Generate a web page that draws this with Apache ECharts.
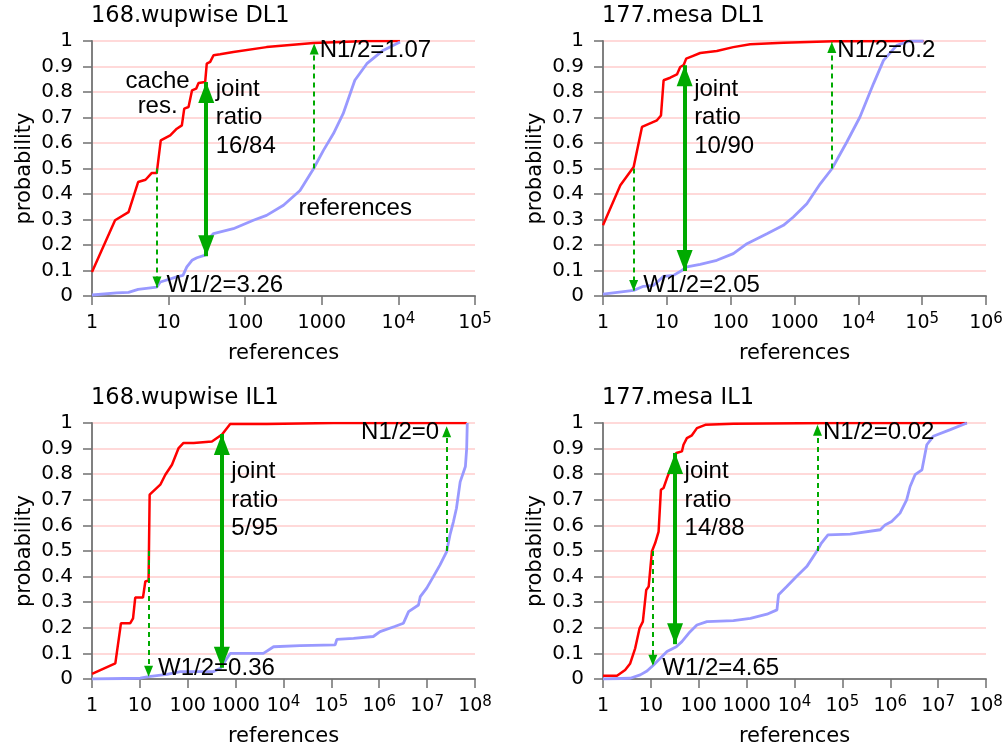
<!DOCTYPE html>
<html lang="en">
<head>
<meta charset="utf-8">
<title>cache residency vs references</title>
<style>
html, body, #main {
    width: 100%;
    height: 100%;
    margin: 0;
    padding: 0;
    overflow: hidden;
    background: #fff;
}
</style>
</head>
<body>
<div id="main"></div>
<script src="https://cdn.jsdelivr.net/npm/echarts@6.0.0/dist/echarts.min.js"></script>
<script>
// one entry per panel: top-left, top-right, bottom-left, bottom-right
var titles = ['168.wupwise DL1', '177.mesa DL1', '168.wupwise IL1', '177.mesa IL1'];
var xMaxExp = [5, 6, 8, 8];

// cache residency CDF (red) and references CDF (blue), [references, probability]
var resWupDL1 = [[1,0.094],[2,0.297],[3,0.329],[4,0.447],[5,0.456],[6,0.482],[7,0.482],[7.9,0.61],[10.5,0.63],[12.8,0.656],[14.9,0.669],[16,0.735],[18.2,0.741],[20.2,0.806],[22.9,0.813],[24.6,0.835],[30,0.839],[31.5,0.911],[34.9,0.918],[38.6,0.944],[47,0.948],[70,0.957],[190,0.976],[780,0.992],[3900,1],[10500,1]];
var refWupDL1 = [[1,0.004],[2.1,0.012],[3,0.014],[4,0.026],[7,0.035],[7.8,0.055],[12.8,0.075],[15.4,0.081],[17.3,0.114],[20.2,0.14],[23.4,0.15],[30,0.16],[31.6,0.218],[38.6,0.245],[70,0.264],[128,0.297],[190,0.316],[316,0.356],[520,0.414],[780,0.499],[1050,0.571],[1420,0.637],[1900,0.715],[2700,0.846],[3870,0.911],[6300,0.963],[10500,0.996]];
var resMesaDL1 = [[1,0.277],[1.87,0.434],[3.02,0.506],[4.08,0.663],[7,0.689],[8.1,0.708],[8.9,0.846],[11.3,0.856],[14.4,0.869],[16.2,0.898],[18.3,0.905],[20.1,0.931],[24.7,0.94],[33.3,0.953],[60.6,0.961],[110,0.976],[202,0.987],[670,0.993],[4100,0.999],[105000,1]];
var refMesaDL1 = [[1,0.007],[3.02,0.022],[4.3,0.038],[6.2,0.042],[8.9,0.077],[12.7,0.081],[17.2,0.1],[20.6,0.114],[33.3,0.124],[60.6,0.14],[110,0.166],[180,0.205],[370,0.244],[670,0.277],[960,0.31],[1560,0.362],[2530,0.44],[3860,0.499],[6600,0.604],[10600,0.702],[17300,0.833],[24800,0.924],[40000,0.983],[64000,1],[105000,1]];
var resWupIL1 = [[1,0.02],[3.07,0.061],[4.03,0.218],[6.3,0.218],[7.2,0.237],[8,0.318],[11.6,0.318],[13,0.381],[15.2,0.385],[16,0.72],[26.7,0.759],[34,0.798],[46.8,0.837],[64.5,0.902],[81.6,0.922],[133,0.922],[320,0.928],[520,0.955],[770,0.996],[4500,0.996],[110000,1],[6.7e7,1]];
var refWupIL1 = [[1,0],[10.2,0.003],[15.2,0.009],[36.7,0.018],[70,0.029],[347,0.029],[480,0.042],[770,0.1],[3800,0.1],[6200,0.126],[22000,0.13],[120000,0.133],[130000,0.155],[290000,0.159],[750000,0.166],[1.04e6,0.185],[2.1e6,0.205],[3.2e6,0.218],[4.1e6,0.263],[6.6e6,0.289],[7.2e6,0.322],[9.8e6,0.355],[1.35e7,0.4],[1.86e7,0.446],[2.56e7,0.498],[3.0e7,0.563],[3.55e7,0.615],[4.1e7,0.667],[4.9e7,0.77],[6.3e7,0.83],[6.7e7,0.9],[6.9e7,1]];
var resMesaIL1 = [[1,0.013],[1.96,0.013],[2.9,0.035],[3.7,0.061],[4.7,0.12],[5.8,0.198],[6.8,0.224],[8,0.348],[9,0.361],[10.5,0.498],[12.3,0.531],[14.5,0.576],[16.2,0.739],[18.4,0.746],[21.7,0.785],[25.4,0.817],[29.8,0.844],[34,0.883],[44.5,0.889],[48,0.915],[56.5,0.941],[72,0.952],[91.6,0.98],[137,0.993],[530,0.997],[65000,1],[4e7,1]];
var refMesaIL1 = [[1,0],[3.7,0.003],[6,0.016],[8.3,0.031],[11.4,0.055],[15.7,0.081],[21.7,0.107],[34,0.126],[44.5,0.146],[66,0.185],[91.6,0.211],[148,0.224],[530,0.228],[1200,0.237],[2660,0.253],[4300,0.27],[4640,0.329],[6900,0.361],[11000,0.4],[18000,0.439],[29000,0.498],[36500,0.531],[50000,0.563],[145000,0.566],[620000,0.583],[780000,0.602],[1.07e6,0.615],[1.6e6,0.648],[2.2e6,0.7],[2.6e6,0.752],[3.3e6,0.798],[4.6e6,0.817],[5.8e6,0.915],[7.9e6,0.948],[1.8e7,0.974],[4e7,1]];

var residency = [resWupDL1, resMesaDL1, resWupIL1, resMesaIL1];
var references = [refWupDL1, refMesaDL1, refWupIL1, refMesaIL1];

// half-way arrows: W1/2 goes down from residency 0.5, N1/2 goes up from references 0.5
var wArrowX = [7.05, 3.02, 15.2, 11];
var wArrowTo = [0.033, 0.02, 0.009, 0.052];
var wLabels = ['W1/2=3.26', 'W1/2=2.05', 'W1/2=0.36', 'W1/2=4.65'];
var nArrowX = [795, 3840, 2.56e7, 30200];
var nArrowTo = [0.99, 0.996, 0.987, 0.993];
var nLabels = ['N1/2=1.07', 'N1/2=0.2', 'N1/2=0', 'N1/2=0.02'];

// joint ratio arrows between the two curves
var jointX = [31, 19, 516, 32];
var jointTop = [0.839, 0.905, 0.957, 0.883];
var jointBottom = [0.156, 0.098, 0.044, 0.136];
var jointRatio = ['16/84', '10/90', '5/95', '14/88'];

var AXIS_FONT = 'DejaVu Sans';
var NOTE_FONT = 'Liberation Sans';
var GREEN = '#00aa00';

var gridLeft = [92, 603, 92, 603];
var gridTop = [41, 41, 423, 423];
var gridHeight = [255, 255, 256, 256];

var myChart = echarts.init(document.getElementById('main'));

function xLabel(v) {
    var e = Math.round(Math.log(v) / Math.LN10);
    if (e < 4) {
        return '{b|' + Math.round(v) + '}';
    }
    return '{b|10}{s|' + e + '}';
}

function note(x, y, text, pos, extra) {
    var lab = {
        show: true,
        formatter: text,
        position: pos,
        align: 'left',
        verticalAlign: 'middle',
        color: '#000',
        fontFamily: NOTE_FONT,
        fontSize: 24
    };
    if (extra) {
        for (var k in extra) lab[k] = extra[k];
    }
    return { coord: [x, y], label: lab };
}

var grids = [], xAxes = [], yAxes = [], series = [], titleList = [];

for (var i = 0; i < 4; i++) {
    grids.push({
        left: gridLeft[i],
        top: gridTop[i],
        width: 383,
        height: gridHeight[i],
        containLabel: false,
        outerBoundsMode: 'none'
    });
    titleList.push({
        text: titles[i],
        left: gridLeft[i] - 1,
        top: gridTop[i] - 36,
        padding: 0,
        textStyle: { fontFamily: AXIS_FONT, fontSize: 22.5, fontWeight: 'normal', color: '#000' }
    });
    xAxes.push({
        type: 'log',
        logBase: 10,
        gridIndex: i,
        min: 1,
        max: Math.pow(10, xMaxExp[i]),
        name: 'references',
        nameLocation: 'middle',
        nameGap: 47,
        nameMoveOverlap: false,
        nameTextStyle: { fontFamily: AXIS_FONT, fontSize: 21, color: '#000' },
        axisLine: { onZero: false, lineStyle: { color: '#808080', width: 2 } },
        axisTick: { show: true, length: 9, lineStyle: { color: '#707070', width: 1.5 } },
        splitLine: { show: false },
        minorTick: { show: false },
        axisLabel: {
            margin: 16,
            color: '#000',
            formatter: xLabel,
            rich: {
                b: { fontFamily: AXIS_FONT, fontSize: 19, lineHeight: 23, color: '#000' },
                s: { fontFamily: AXIS_FONT, fontSize: 15, lineHeight: 14, verticalAlign: 'top', color: '#000' }
            }
        }
    });
    yAxes.push({
        type: 'value',
        gridIndex: i,
        min: 0,
        max: 1,
        interval: 0.1,
        name: 'probability',
        nameLocation: 'middle',
        nameGap: 57,
        nameMoveOverlap: false,
        nameTextStyle: { fontFamily: AXIS_FONT, fontSize: 21, color: '#000' },
        axisLine: { show: true, onZero: false, lineStyle: { color: '#808080', width: 2 } },
        axisTick: { show: true, length: 9, lineStyle: { color: '#707070', width: 1.5 } },
        splitLine: { show: true, lineStyle: { color: '#ffcccc', width: 1.5 } },
        axisLabel: {
            margin: 19,
            color: '#000',
            fontFamily: AXIS_FONT,
            fontSize: 20,
            formatter: function (v) { return String(Math.round(v * 10) / 10); }
        }
    });

    var notes = [
        note(wArrowX[i], 0.04, wLabels[i], [10, 0]),
        note(jointX[i], 0.81, 'joint\nratio\n' + jointRatio[i], [10, -14],
            { verticalAlign: 'top', lineHeight: 28.5 })
    ];
    if (i === 2) {
        notes.push(note(nArrowX[i], 0.962, nLabels[i], [-7, 0], { align: 'right' }));
    } else {
        notes.push(note(nArrowX[i], 0.962, nLabels[i], [6, 0]));
    }
    if (i === 0) {
        notes.push(note(7.3, 0.84, 'cache\nres.', [0, -13],
            { align: 'center', verticalAlign: 'top', lineHeight: 25.7 }));
        notes.push(note(505, 0.341, 'references', [0, 0]));
    }

    var headSmall = { symbol: 'triangle', symbolSize: [9, 11], symbolOffset: [0, '50%'] };
    var headBig = { symbol: 'triangle', symbolSize: [16, 21], symbolOffset: [0, '50%'] };

    series.push({
        type: 'line',
        xAxisIndex: i,
        yAxisIndex: i,
        data: residency[i],
        symbol: 'none',
        silent: true,
        lineStyle: { color: '#ff0000', width: 2.5 },
        z: 2
    });
    series.push({
        type: 'line',
        xAxisIndex: i,
        yAxisIndex: i,
        data: references[i],
        symbol: 'none',
        silent: true,
        lineStyle: { color: '#9999ff', width: 2.8 },
        z: 3,
        markLine: {
            silent: true,
            animation: false,
            symbol: ['none', 'none'],
            label: { show: false },
            emphasis: { disabled: true },
            lineStyle: { color: GREEN, width: 2, type: [5, 4] },
            data: [
                [
                    { coord: [wArrowX[i], 0.5], symbol: 'none' },
                    Object.assign({ coord: [wArrowX[i], wArrowTo[i]] }, headSmall)
                ],
                [
                    { coord: [nArrowX[i], 0.5], symbol: 'none' },
                    Object.assign({ coord: [nArrowX[i], nArrowTo[i]] }, headSmall)
                ],
                [
                    Object.assign({ coord: [jointX[i], jointTop[i]],
                        lineStyle: { color: GREEN, width: 4, type: 'solid' } }, headBig),
                    Object.assign({ coord: [jointX[i], jointBottom[i]] }, headBig)
                ]
            ]
        },
        markPoint: {
            silent: true,
            animation: false,
            symbol: 'circle',
            symbolSize: 1,
            itemStyle: { color: 'rgba(0,0,0,0)' },
            data: notes
        }
    });
}

myChart.setOption({
    animation: false,
    backgroundColor: '#fff',
    title: titleList,
    grid: grids,
    xAxis: xAxes,
    yAxis: yAxes,
    series: series
});
</script>
</body>
</html>
